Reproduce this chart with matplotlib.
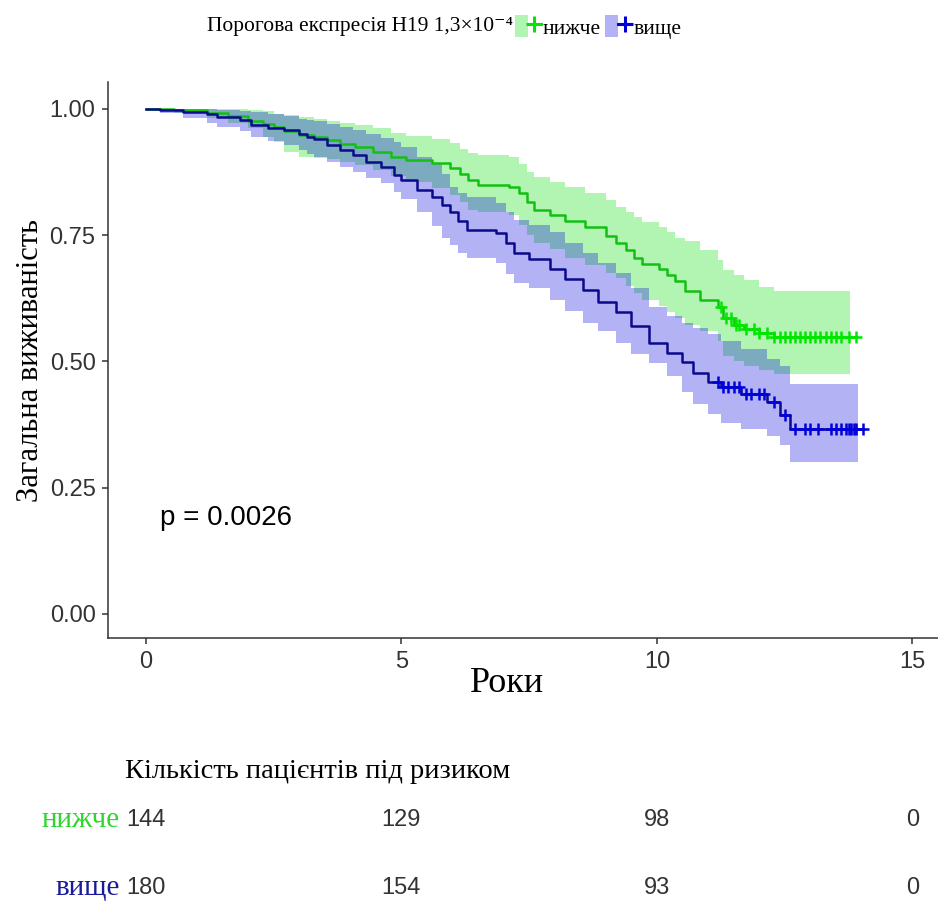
import numpy as np
import matplotlib
matplotlib.use("Agg")
import matplotlib.pyplot as plt
from matplotlib.lines import Line2D
from matplotlib.patches import Patch
from matplotlib.legend_handler import HandlerTuple
from matplotlib.transforms import blended_transform_factory

SERIF = ["Liberation Serif", "DejaVu Serif"]
SANS = ["Liberation Sans", "DejaVu Sans"]

# --- survival curve: нижче (low expression) ---
low_t = [0.0, 0.55, 1.2, 1.6, 2.0, 2.3, 2.5, 2.7, 3.0, 3.3, 3.55, 3.8, 4.1, 4.45, 4.8,
         5.1, 5.6, 5.95, 6.15, 6.3, 6.5, 7.1, 7.3, 7.45, 7.6, 7.9, 8.2, 8.6, 9.0, 9.2,
         9.4, 9.55, 9.7, 10.05, 10.2, 10.35, 10.55, 10.85, 11.2, 11.3, 11.5, 11.7, 12.0,
         12.3, 13.77]
low_s = [1.0, 0.997, 0.992, 0.986, 0.976, 0.970, 0.964, 0.955, 0.948, 0.945, 0.938, 0.930,
         0.924, 0.915, 0.905, 0.899, 0.893, 0.883, 0.870, 0.859, 0.850, 0.846, 0.834, 0.815,
         0.800, 0.790, 0.777, 0.765, 0.748, 0.735, 0.720, 0.705, 0.693, 0.683, 0.670, 0.658,
         0.640, 0.622, 0.607, 0.585, 0.572, 0.563, 0.556, 0.549, 0.549]
low_lo = [1.0, 0.992, 0.982, 0.972, 0.962, 0.945, 0.935, 0.915, 0.905, 0.903, 0.900, 0.895,
          0.888, 0.878, 0.866, 0.855, 0.843, 0.830, 0.815, 0.800, 0.796, 0.790, 0.770, 0.750,
          0.735, 0.722, 0.705, 0.690, 0.675, 0.665, 0.650, 0.635, 0.622, 0.610, 0.598, 0.585,
          0.572, 0.560, 0.540, 0.510, 0.500, 0.490, 0.482, 0.475, 0.475]
low_hi = [1.0, 1.0, 1.0, 1.0, 0.998, 0.995, 0.990, 0.988, 0.984, 0.980, 0.976, 0.972, 0.968,
          0.962, 0.952, 0.946, 0.940, 0.933, 0.920, 0.913, 0.908, 0.905, 0.890, 0.875, 0.865,
          0.855, 0.845, 0.834, 0.820, 0.806, 0.795, 0.785, 0.775, 0.765, 0.755, 0.745, 0.738,
          0.720, 0.700, 0.680, 0.670, 0.660, 0.648, 0.640, 0.640]
low_cens = [11.25, 11.35, 11.45, 11.55, 11.6, 11.75, 11.9, 12.0, 12.15, 12.3, 12.4, 12.5,
            12.6, 12.7, 12.8, 12.9, 13.0, 13.1, 13.2, 13.3, 13.4, 13.5, 13.6, 13.75, 13.9]

# --- вище (high expression) ---
high_t = [0.0, 0.27, 0.72, 1.2, 1.4, 1.85, 2.05, 2.4, 2.7, 3.0, 3.15, 3.3, 3.55, 3.8, 4.05,
          4.3, 4.6, 4.85, 5.0, 5.3, 5.6, 5.8, 5.95, 6.1, 6.28, 6.85, 7.05, 7.2, 7.5, 7.9,
          8.2, 8.55, 8.85, 9.2, 9.5, 9.85, 10.2, 10.5, 10.7, 11.0, 11.25, 11.65, 12.15,
          12.4, 12.6, 13.93]
high_s = [1.0, 0.997, 0.994, 0.990, 0.984, 0.977, 0.968, 0.962, 0.957, 0.951, 0.945, 0.940,
          0.929, 0.919, 0.909, 0.895, 0.884, 0.869, 0.859, 0.840, 0.826, 0.810, 0.795, 0.778,
          0.760, 0.754, 0.735, 0.715, 0.703, 0.683, 0.662, 0.642, 0.618, 0.597, 0.570, 0.537,
          0.517, 0.498, 0.477, 0.458, 0.450, 0.436, 0.420, 0.393, 0.365, 0.365]
high_lo = [1.0, 0.992, 0.982, 0.972, 0.964, 0.955, 0.945, 0.936, 0.928, 0.919, 0.910, 0.905,
           0.895, 0.885, 0.875, 0.862, 0.853, 0.835, 0.822, 0.795, 0.768, 0.745, 0.730, 0.715,
           0.705, 0.695, 0.672, 0.655, 0.645, 0.622, 0.600, 0.576, 0.560, 0.536, 0.515, 0.497,
           0.470, 0.440, 0.415, 0.395, 0.378, 0.365, 0.352, 0.335, 0.300, 0.300]
high_hi = [1.0, 1.0, 1.0, 1.0, 0.998, 0.996, 0.993, 0.990, 0.985, 0.980, 0.978, 0.976, 0.970,
           0.963, 0.957, 0.950, 0.943, 0.935, 0.925, 0.905, 0.893, 0.870, 0.845, 0.834, 0.825,
           0.814, 0.795, 0.780, 0.770, 0.755, 0.735, 0.715, 0.695, 0.675, 0.645, 0.608, 0.590,
           0.576, 0.565, 0.553, 0.540, 0.525, 0.505, 0.490, 0.455, 0.455]
high_cens = [11.2, 11.3, 11.4, 11.5, 11.6, 11.75, 11.85, 12.0, 12.1, 12.3, 12.5, 12.7, 12.9,
             13.0, 13.15, 13.4, 13.5, 13.6, 13.7, 13.75, 13.8, 13.85, 13.9, 14.03]

# risk table
risk_times = [0, 5, 10, 15]
risk_low = [144, 129, 98, 0]
risk_high = [180, 154, 93, 0]

groups = ["нижче", "вище"]
line_cols = ["#14bf14", "#0a0a8c"]
mark_cols = ["#00e600", "#0000d8"]
band_cols = ["#00e000", "#0000e0"]
label_cols = ["#2ed62e", "#1a1a9a"]

fig = plt.figure(figsize=(9.38, 9.11), dpi=100)
ax = fig.add_axes([108 / 938, 1 - 638 / 911, 1 - 108 / 938, (638 - 82) / 911])

data = [(low_t, low_s, low_lo, low_hi, low_cens),
        (high_t, high_s, high_lo, high_hi, high_cens)]

for (t, s, lo, hi, cens), bc in zip(data, band_cols):
    ax.fill_between(t, lo, hi, step="post", color=bc, alpha=0.3, lw=0)

for (t, s, lo, hi, cens), lc, mc in zip(data, line_cols, mark_cols):
    t = np.array(t)
    s = np.array(s)
    tt = np.append(t, cens[-1])
    ss = np.append(s, s[-1])
    ax.plot(tt, ss, drawstyle="steps-post", color=lc, lw=1.8)
    idx = np.searchsorted(t, cens, side="right") - 1
    ax.plot(cens, s[idx], ls="none", marker="+", ms=9, mew=1.8, color=mc)

ax.set_xlim(-0.74, 15.5)
ax.set_ylim(-0.048, 1.053)
ax.set_xticks([0, 5, 10, 15])
ax.set_yticks([0, 0.25, 0.5, 0.75, 1.0])
ax.set_yticklabels(["0.00", "0.25", "0.50", "0.75", "1.00"])
for side in ["top", "right"]:
    ax.spines[side].set_visible(False)
for side in ["left", "bottom"]:
    ax.spines[side].set_color("#333333")
    ax.spines[side].set_linewidth(1.1)
ax.tick_params(length=4, width=1.1, color="#333333", labelsize=17, labelcolor="#333333", pad=5)
for lab in ax.get_xticklabels() + ax.get_yticklabels():
    lab.set_family(SANS)

fig.text(507 / 938, 1 - 683 / 911, "Роки", family=SERIF, fontsize=26, ha="center", va="center")
ax.set_ylabel("Загальна виживаність", family=SERIF, fontsize=22, labelpad=3)

ax.text(0.27, 0.19, "p = 0.0026", family=SANS, fontsize=20, va="center", ha="left")

# legend on top
fig.text(513 / 938, 1 - 27 / 911, "Порогова експресія H19 1,3×10⁻⁴", family=SERIF,
         fontsize=15.5, ha="right", va="center")
handles = [(Patch(facecolor=bc, alpha=0.3, lw=0),
            Line2D([], [], color=mc, lw=2.2, marker="+", ms=12, mew=2.2))
           for bc, mc in zip(band_cols, mark_cols)]
fig.legend(handles, groups, loc="center left", bbox_to_anchor=(515 / 938, 1 - 27 / 911),
           ncol=2, frameon=False, handlelength=1.2, handleheight=1.2, handletextpad=0.1,
           columnspacing=0.2, borderpad=0, borderaxespad=0,
           handler_map={tuple: HandlerTuple(ndivide=None)},
           prop={"family": SERIF, "size": 15.5})

# risk table
fig.text(125 / 938, 1 - 771 / 911, "Кількість пацієнтів під ризиком", family=SERIF,
         fontsize=20.5, ha="left", va="center")
tr = blended_transform_factory(ax.transData, fig.transFigure)
for row_y, counts, name, col in zip([1 - 820 / 911, 1 - 888 / 911], [risk_low, risk_high],
                                    groups, label_cols):
    fig.text(120 / 938, row_y, name, family=SERIF, fontsize=21, color=col,
             ha="right", va="center")
    for t, n in zip(risk_times, counts):
        fig.text(t, row_y, str(n), transform=tr, family=SANS, fontsize=17,
                 color="#333333", ha="center", va="center")

fig.savefig("out.png", dpi=100)
